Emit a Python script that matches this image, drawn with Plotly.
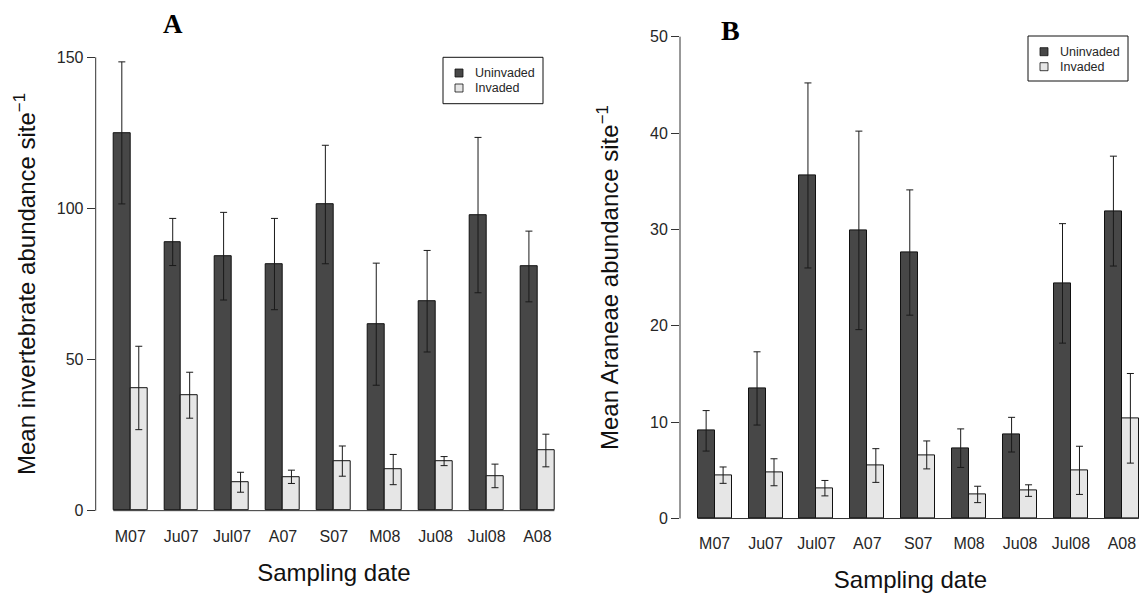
import plotly.graph_objects as go

# ---------------- data ----------------
dates = ["M07", "Ju07", "Jul07", "A07", "S07", "M08", "Ju08", "Jul08", "A08"]

# Panel A: mean invertebrate abundance per site
inv_uninvaded = [125.0, 88.9, 84.2, 81.6, 101.3, 61.7, 69.3, 97.8, 80.8]
inv_uninvaded_se = [23.5, 7.8, 14.5, 15.1, 19.6, 20.2, 16.8, 25.7, 11.7]
inv_invaded = [40.6, 38.2, 9.4, 11.2, 16.4, 13.6, 16.4, 11.5, 19.9]
inv_invaded_se = [13.8, 7.6, 3.3, 2.2, 5.0, 5.0, 1.5, 3.9, 5.4]

# Panel B: mean Araneae abundance per site
ara_uninvaded = [9.1, 13.5, 35.6, 29.9, 27.6, 7.3, 8.7, 24.4, 31.9]
ara_uninvaded_se = [2.1, 3.8, 9.6, 10.3, 6.5, 2.0, 1.8, 6.2, 5.7]
ara_invaded = [4.5, 4.8, 3.15, 5.5, 6.6, 2.5, 2.9, 5.0, 10.4]
ara_invaded_se = [0.85, 1.4, 0.8, 1.75, 1.45, 0.85, 0.6, 2.5, 4.65]

series_names = ["Uninvaded", "Invaded"]
yticks_A = [0, 50, 100, 150]
yticks_B = [0, 10, 20, 30, 40, 50]

# ---------------- style ----------------
W, H = 1141, 593
DARK = "#474747"
LIGHT = "#E6E6E6"
TXT = "#262626"
SANS = "Liberation Sans, Arial, sans-serif"
SERIF = "Liberation Serif, Times New Roman, serif"


def px(x):
    return x / W


def py(y):
    return 1 - y / H


n = len(dates)
# R barplot(beside=TRUE) positions: each group = 1 space + 2 bars
pos_dark = [1.5 + 3 * i for i in range(n)]
pos_light = [2.5 + 3 * i for i in range(n)]
pos_group = [2.0 + 3 * i for i in range(n)]

fig = go.Figure()


def add_panel(xa, ya, unin, unin_se, inv, inv_se):
    for pos, vals, se, col, name in [
        (pos_dark, unin, unin_se, DARK, series_names[0]),
        (pos_light, inv, inv_se, LIGHT, series_names[1]),
    ]:
        fig.add_trace(go.Bar(
            x=pos, y=vals, width=1.0, name=name, showlegend=False,
            marker=dict(color=col, line=dict(color="#111111", width=1)),
            error_y=dict(type="data", array=se, visible=True,
                         color="#1a1a1a", thickness=1, width=3.5),
            xaxis=xa, yaxis=ya,
        ))


add_panel("x", "y", inv_uninvaded, inv_uninvaded_se, inv_invaded, inv_invaded_se)
add_panel("x2", "y2", ara_uninvaded, ara_uninvaded_se, ara_invaded, ara_invaded_se)

xaxis_common = dict(
    tickmode="array", tickvals=pos_group, ticktext=dates,
    showgrid=False, zeroline=False, showline=False, ticks="",
    tickfont=dict(family=SANS, size=16, color=TXT),
    fixedrange=True,
)
yaxis_common = dict(
    showgrid=False, zeroline=False, showline=False,
    ticks="outside", ticklen=8, tickcolor="#333333", tickwidth=1,
    tickfont=dict(family=SANS, size=16, color=TXT),
    tickmode="array",
)

fig.update_layout(
    width=W, height=H,
    margin=dict(l=0, r=0, t=0, b=0),
    paper_bgcolor="white", plot_bgcolor="white",
    barmode="overlay", bargap=0,
    xaxis=dict(xaxis_common, domain=[px(95.7), px(572.0)], range=[-0.04, 28.04],
               anchor="y", ticklabelstandoff=-4,
               title=dict(text="Sampling date", standoff=20,
                          font=dict(family=SANS, size=24, color="#111111"))),
    yaxis=dict(yaxis_common, domain=[py(528.8), py(39.2)], range=[-6, 156],
               tickvals=yticks_A, anchor="x",
               title=dict(text="Mean invertebrate abundance site<sup>−1</sup>",
                          standoff=14, font=dict(family=SANS, size=24, color="#111111"))),
    xaxis2=dict(xaxis_common, domain=[px(680.0), 1.0], range=[-0.04, -0.04 + (W - 680.0) / 16.97],
                anchor="y2", ticklabelstandoff=-6,
                title=dict(text="Sampling date", standoff=22,
                           font=dict(family=SANS, size=24, color="#111111"))),
    yaxis2=dict(yaxis_common, domain=[py(537.8), py(17.4)], range=[-2, 52],
                tickvals=yticks_B, anchor="x2",
                title=dict(text="Mean Araneae abundance site<sup>−1</sup>",
                           standoff=24, font=dict(family=SANS, size=24, color="#111111"))),
)

shapes = []
# axis lines (R style: only between extreme ticks) and baseline under bars
for xa, ya, ymax in [("x", "y", yticks_A[-1]), ("x2", "y2", yticks_B[-1])]:
    shapes.append(dict(type="line", xref=f"{xa} domain", yref=ya, x0=0, x1=0,
                       y0=0, y1=ymax, line=dict(color="#333333", width=1)))
    shapes.append(dict(type="line", xref=xa, yref=ya, x0=1, x1=3 * n,
                       y0=0, y1=0, line=dict(color="#333333", width=1), layer="above"))

# manual legends (R-style boxes)
annotations = []
for (bx0, by0, bx1, by1) in [(443, 57.3, 543, 103.7), (1028, 36, 1128, 81)]:
    shapes.append(dict(type="rect", xref="paper", yref="paper",
                       x0=px(bx0), x1=px(bx1), y0=py(by1), y1=py(by0),
                       line=dict(color="#111111", width=1), fillcolor="white"))
    row1 = by0 + 15.7
    for k, (col, name) in enumerate([(DARK, series_names[0]), (LIGHT, series_names[1])]):
        cy = row1 + 15 * k
        cx = bx0 + 16
        shapes.append(dict(type="rect", xref="paper", yref="paper",
                           x0=px(cx - 4), x1=px(cx + 4), y0=py(cy + 4), y1=py(cy - 4),
                           line=dict(color="#111111", width=0.8), fillcolor=col))
        annotations.append(dict(xref="paper", yref="paper", x=px(bx0 + 30), y=py(cy),
                                xanchor="left", yanchor="middle", showarrow=False,
                                text=name, font=dict(family=SANS, size=12.5, color=TXT)))

# panel letters
annotations.append(dict(xref="paper", yref="paper", x=px(173), y=py(24), showarrow=False,
                        xanchor="center", yanchor="middle", text="<b>A</b>",
                        font=dict(family=SERIF, size=27, color="#000000")))
annotations.append(dict(xref="paper", yref="paper", x=px(730), y=py(30), showarrow=False,
                        xanchor="center", yanchor="middle", text="<b>B</b>",
                        font=dict(family=SERIF, size=28, color="#000000")))

fig.update_layout(shapes=shapes, annotations=annotations)

fig.write_html("out.html")
